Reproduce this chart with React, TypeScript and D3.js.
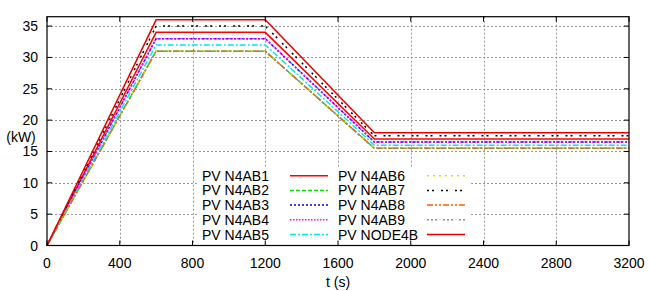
import React from "react";
import * as d3 from "d3";

const times = [0, 600, 1200, 1800, 3200];
const seriesNames = [
  "PV N4AB1", "PV N4AB2", "PV N4AB3", "PV N4AB4", "PV N4AB5",
  "PV N4AB6", "PV N4AB7", "PV N4AB8", "PV N4AB9", "PV NODE4B",
];
const n4ab1 = [0, 34, 34, 17, 17];
const n4ab2 = [0, 31, 31, 15.5, 15.5];
const n4ab3 = [0, 33, 33, 16.5, 16.5];
const n4ab4 = [0, 33, 33, 16.5, 16.5];
const n4ab5 = [0, 32, 32, 16, 16];
const n4ab6 = [0, 31, 31, 15.5, 15.5];
const n4ab7 = [0, 35, 35, 17.5, 17.5];
const n4ab8 = [0, 31, 31, 15.5, 15.5];
const n4ab9 = [0, 31, 31, 15.5, 15.5];
const node4b = [0, 36, 36, 18, 18];
const seriesValues = [n4ab1, n4ab2, n4ab3, n4ab4, n4ab5, n4ab6, n4ab7, n4ab8, n4ab9, node4b];
const xTicks = [0, 400, 800, 1200, 1600, 2000, 2400, 2800, 3200];
const yTicks = [0, 5, 10, 15, 20, 25, 30, 35];

const styles = [
  { color: "#ff0000", dash: "" },
  { color: "#00e000", dash: "4,2" },
  { color: "#0000ff", dash: "2,2" },
  { color: "#ff00ff", dash: "1.5,1.5" },
  { color: "#00e8e8", dash: "6,2,2,2" },
  { color: "#e0e000", dash: "2,4" },
  { color: "#000000", dash: "2,3,2,7" },
  { color: "#ff5a00", dash: "6,2,2,2,2,2" },
  { color: "#909090", dash: "2,2,2,2,2,6" },
  { color: "#e80000", dash: "" },
];

export default function App() {
  const W = 649, H = 291;
  const left = 47, right = 629, top = 16.7, bottom = 245.5;
  const x = d3.scaleLinear().domain([0, 3200]).range([left, right]);
  const y = d3.scaleLinear().domain([0, 36.5]).range([bottom, top]);
  const line = d3.line<number>().x((_, i) => x(times[i])).y((d) => y(d));
  const font = "'Liberation Sans', Arial, Helvetica, sans-serif";
  const legX = [202, 338];
  const legSample = [[290, 328], [427, 465]];
  const rowY = (i: number) => 175.7 + i * 14.7;

  return (
    <svg width={W} height={H} style={{ position: "absolute", left: 0, top: 0, background: "#fff" }}
      fontFamily={font} fontSize={14}>
      <rect x={0} y={0} width={W} height={H} fill="#fff" />
      {/* grid */}
      {yTicks.filter((t) => t > 0).map((t) => (
        <line key={"gy" + t} x1={left} x2={right} y1={Math.round(y(t)) + 0.5} y2={Math.round(y(t)) + 0.5}
          stroke="#999" strokeWidth={1} strokeDasharray="2,2" />
      ))}
      {xTicks.filter((t) => t > 0 && t < 3200).map((t) => (
        <line key={"gx" + t} y1={top} y2={bottom} x1={Math.round(x(t)) + 0.5} x2={Math.round(x(t)) + 0.5}
          stroke="#999" strokeWidth={1} strokeDasharray="2,2" />
      ))}
      {/* legend background */}
      <rect x={197} y={167} width={274} height={77} fill="#fff" />
      {/* series */}
      {seriesValues.map((vals, i) => (
        <path key={"s" + i} d={line(vals) || ""} fill="none" stroke={styles[i].color}
          strokeWidth={1.5} strokeDasharray={styles[i].dash || undefined} />
      ))}
      {/* legend */}
      {seriesNames.map((name, i) => {
        const col = Math.floor(i / 5);
        const row = i % 5;
        const ry = rowY(row);
        return (
          <g key={"l" + i}>
            <text x={legX[col]} y={ry} dominantBaseline="central" fill="#000">{name}</text>
            <line x1={legSample[col][0]} x2={legSample[col][1]} y1={ry} y2={ry}
              stroke={styles[i].color} strokeWidth={1.5} strokeDasharray={styles[i].dash || undefined} />
          </g>
        );
      })}
      {/* border */}
      <rect x={left} y={top} width={right - left} height={bottom - top} fill="none" stroke="#000" strokeWidth={1.2} />
      {/* ticks */}
      {yTicks.map((t) => (
        <g key={"ty" + t}>
          <line x1={left} x2={left + 5} y1={y(t)} y2={y(t)} stroke="#000" />
          <line x1={right} x2={right - 5} y1={y(t)} y2={y(t)} stroke="#000" />
          <text x={38} y={y(t)} textAnchor="end" dominantBaseline="central" fill="#000">{t}</text>
        </g>
      ))}
      {xTicks.map((t) => (
        <g key={"tx" + t}>
          <line x1={x(t)} x2={x(t)} y1={bottom} y2={bottom - 5} stroke="#000" />
          <line x1={x(t)} x2={x(t)} y1={top} y2={top + 5} stroke="#000" />
          <text x={x(t)} y={263} textAnchor="middle" dominantBaseline="central" fill="#000">{t}</text>
        </g>
      ))}
      <text x={21} y={137} textAnchor="middle" dominantBaseline="central" fill="#000">(kW)</text>
      <text x={338} y={282} textAnchor="middle" dominantBaseline="central" fill="#000">t (s)</text>
    </svg>
  );
}
